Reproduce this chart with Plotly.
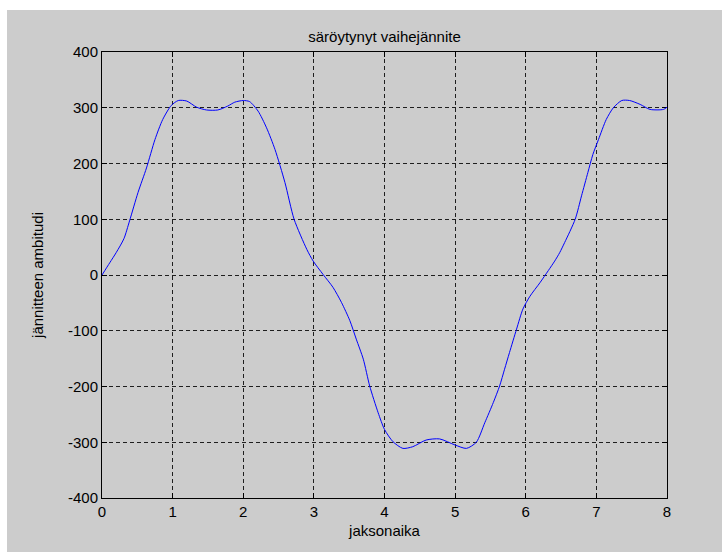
import plotly.graph_objects as go

# Sampled phase voltage over the period axis (jaksonaika)
t = [0, 0.11, 0.20, 0.31, 0.39, 0.51, 0.63, 0.75, 0.86, 0.98, 1.08, 1.20, 1.34, 1.48,
     1.64, 1.78, 1.88, 2.00, 2.09, 2.21, 2.33, 2.45, 2.59, 2.72, 2.90, 2.99, 3.13, 3.27,
     3.39, 3.51, 3.60, 3.70, 3.79, 3.91, 4.00, 4.12, 4.26, 4.40, 4.59, 4.78, 5.00, 5.16,
     5.30, 5.42, 5.54, 5.63, 5.70, 5.77, 5.87, 5.96, 6.06, 6.20, 6.32, 6.41, 6.48, 6.55,
     6.70, 6.79, 6.88, 6.95, 7.03, 7.14, 7.24, 7.36, 7.47, 7.62, 7.76, 7.95, 8.0]
u = [0, 22, 40, 65, 97, 148, 192, 243, 279, 304, 313, 312, 301, 296,
     296, 303, 310, 313, 311, 294, 264, 225, 166, 100, 46, 25, 1, -22,
     -49, -82, -115, -151, -199, -247, -277, -299, -311, -308, -296, -294, -305, -311,
     -300, -265, -229, -199, -169, -139, -97, -61, -38, -14, 8, 25, 40, 58,
     100, 142, 184, 216, 243, 279, 300, 313, 313, 306, 297, 297, 301]

x_ticks = [0, 1, 2, 3, 4, 5, 6, 7, 8]
y_ticks = [-400, -300, -200, -100, 0, 100, 200, 300, 400]

W, H = 722, 552
L, R, T, B = 102, 667, 52, 498

FONT = "Liberation Sans Narrow, Liberation Sans, Arial, sans-serif"

fig = go.Figure()
fig.add_trace(go.Scatter(x=t, y=u, mode="lines",
                         line=dict(color="rgb(0,0,255)", width=1, shape="spline", smoothing=0.7),
                         showlegend=False, hoverinfo="skip"))

axis_common = dict(
    showline=True, linecolor="black", linewidth=1, mirror="ticks",
    ticks="inside", ticklen=5, tickcolor="black", tickwidth=1,
    showgrid=True, gridcolor="rgb(30,30,30)", gridwidth=1, griddash="4px,3px",
    zeroline=False, tickfont=dict(family=FONT, size=15, color="black"),
    layer="below traces",
)

fig.update_xaxes(range=[0, 8], tickvals=x_ticks, ticktext=[str(v) for v in x_ticks],
                 title=dict(text="jaksonaika", font=dict(family=FONT, size=15, color="black"),
                            standoff=6),
                 **axis_common)
fig.update_yaxes(range=[-400, 400], tickvals=y_ticks, ticktext=[str(v) for v in y_ticks],
                 title=dict(text="jännitteen ambitudi", font=dict(family=FONT, size=15, color="black"),
                            standoff=20),
                 **axis_common)

# gray figure background, with a thin white strip along the top and left edges
px2x = lambda p: (p - L) / (R - L)
px2y = lambda p: (B - p) / (B - T)
fig.add_shape(type="rect", xref="paper", yref="paper",
              x0=px2x(7), x1=px2x(W + 2), y0=px2y(H + 2), y1=px2y(10),
              fillcolor="rgb(204,204,204)", line=dict(width=0), layer="below")

fig.update_layout(
    width=W, height=H,
    margin=dict(l=L, r=W - R, t=T, b=H - B),
    paper_bgcolor="white", plot_bgcolor="white",
    title=dict(text="säröytynyt vaihejännite", x=(L + R) / 2 / W, xanchor="center",
               y=1 - 37 / H, yanchor="middle",
               font=dict(family=FONT, size=15, color="black")),
)

fig.write_html("out.html")
